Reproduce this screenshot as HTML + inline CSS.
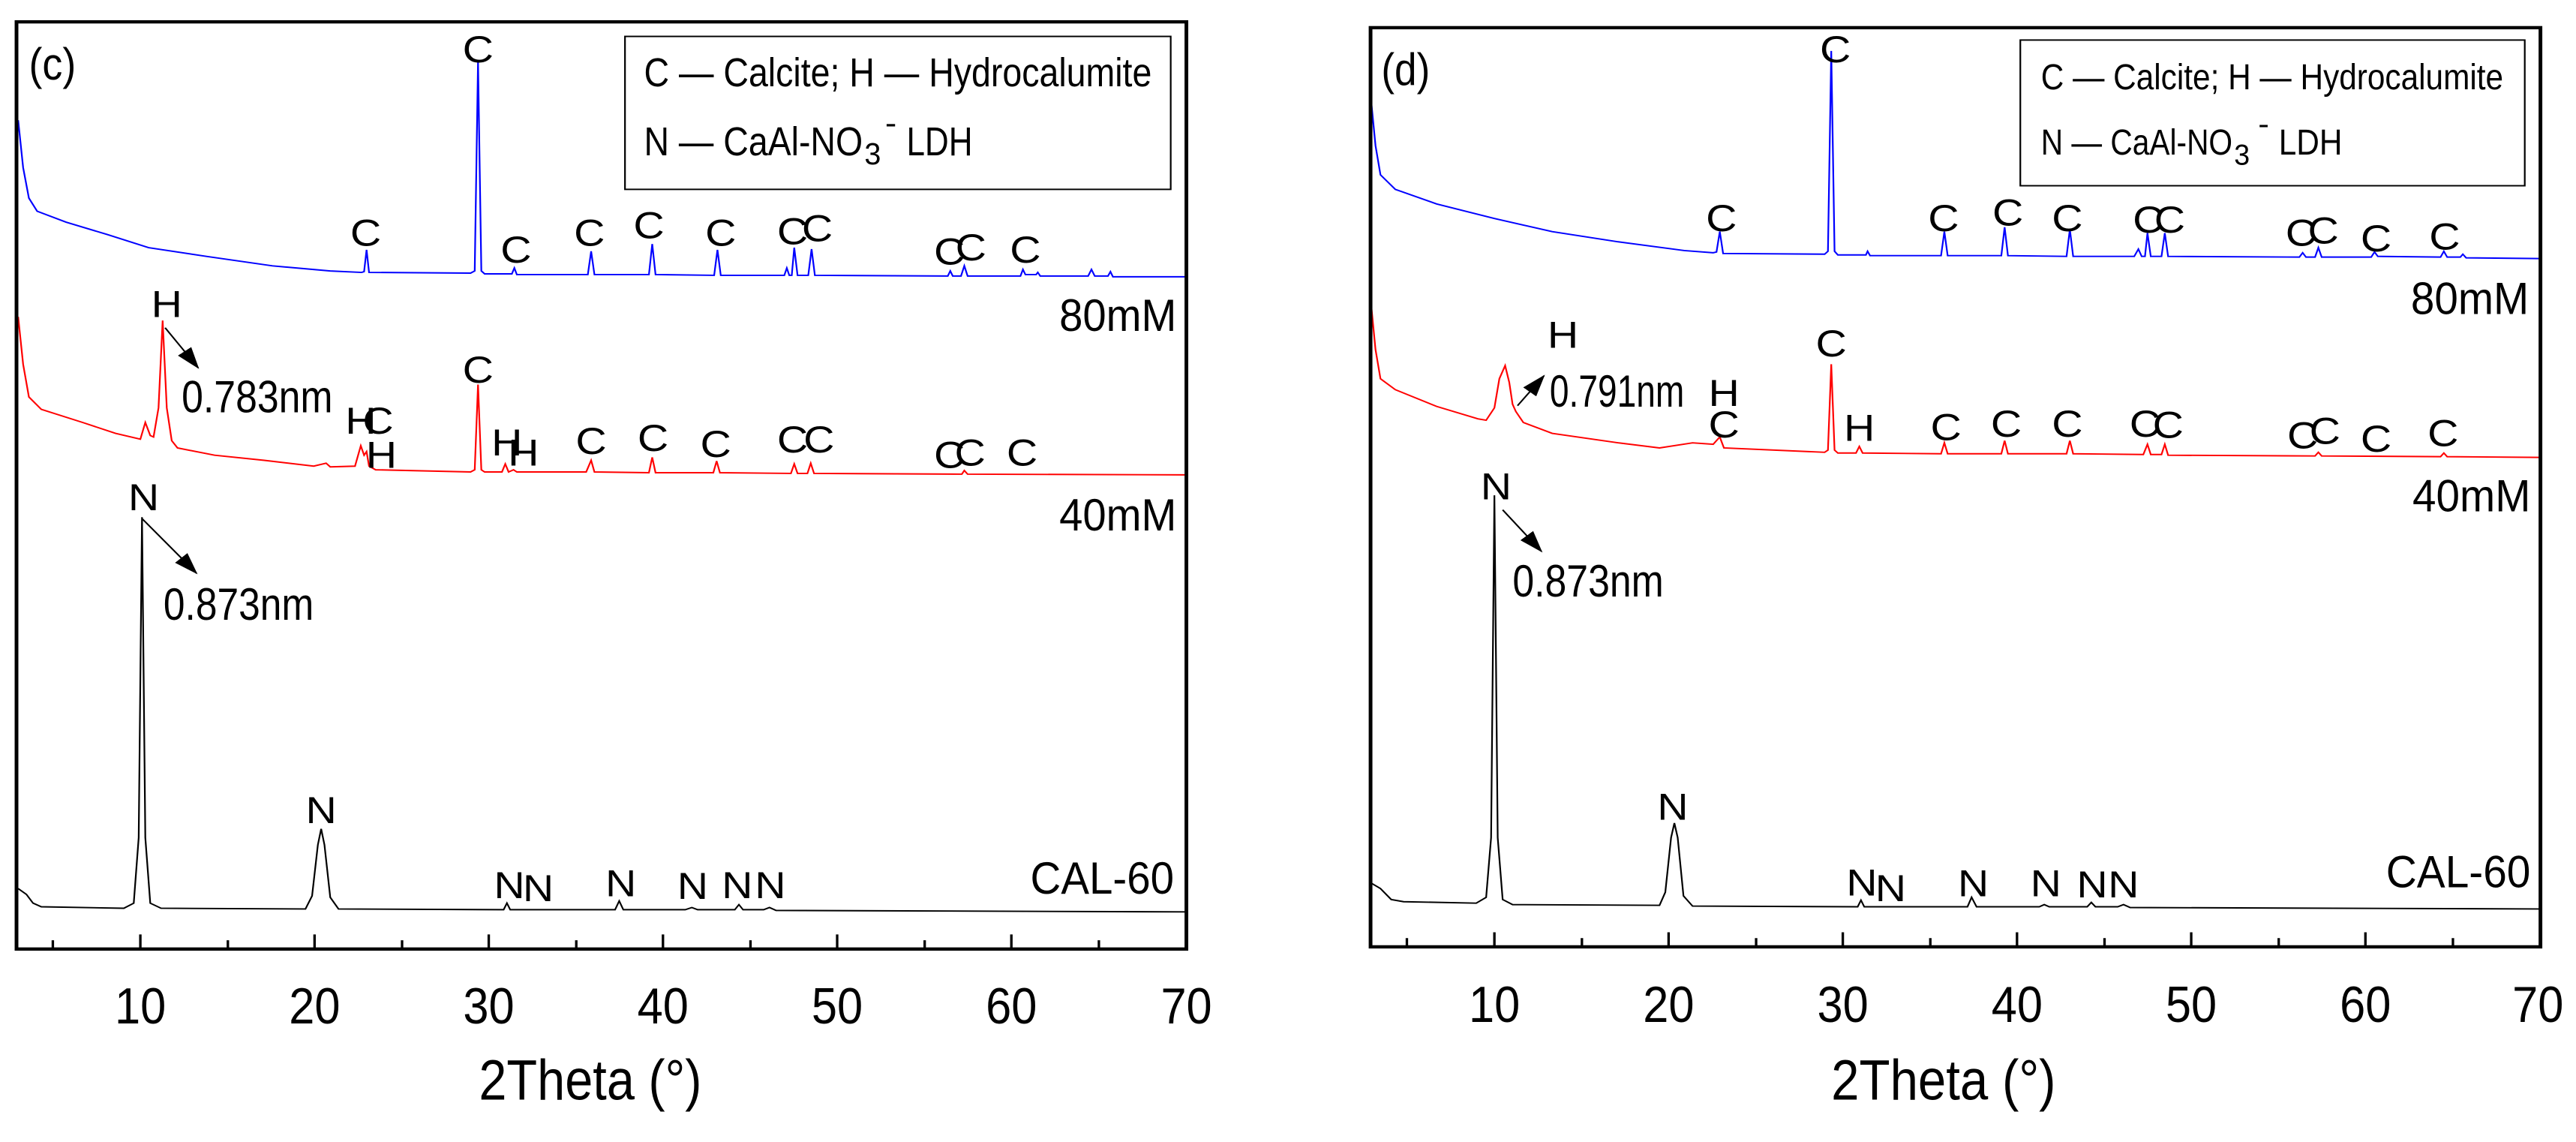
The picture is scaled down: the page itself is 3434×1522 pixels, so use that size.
<!DOCTYPE html>
<html><head><meta charset="utf-8"><style>
html,body{margin:0;padding:0;background:#fff;overflow:hidden}
svg{display:block}
text{font-family:"Liberation Sans",Arial,sans-serif;fill:#000}
.l{font-size:52px;text-anchor:middle;dominant-baseline:central}
.s{font-size:62px;dominant-baseline:central}
.t{font-size:70px;text-anchor:middle}
.g{font-size:55px;dominant-baseline:central}
.d{font-size:62px;dominant-baseline:central}
</style></head><body>
<svg width="3434" height="1522" viewBox="0 0 3434 1522" xmlns="http://www.w3.org/2000/svg">
<defs>
<marker id="ah2" markerWidth="30" markerHeight="24" refX="28" refY="12" orient="auto" markerUnits="userSpaceOnUse"><path d="M0,2 L30,12 L0,22 z" fill="#000"/></marker></defs>

<!-- LEFT PANEL -->
<g transform="scale(1.1006,0.9707)">
<path fill="none" stroke="#00f" stroke-width="2" d="M22,165 L28,230 L35,272 L45,290 L80,305 L130,322 L180,340 L250,352 L330,365 L400,372 L438,374 L441,373 L444,343 L447,374 L570,375 L575,372 L579,85 L583,372 L587,376 L620,376 L623,368 L626,377 L712,377 L716,345 L720,377 L786,377 L790,335 L794,377 L865,378 L869,343 L873,378 L950,378 L953,368 L956,378 L959,378 L962,340 L966,378 L979,378 L983,342 L987,378 L1148,379 L1151,372 L1154,379 L1164,379 L1168,365 L1172,379 L1236,379 L1239,370 L1242,377 L1255,377 L1257,374 L1260,379 L1318,379 L1322,370 L1326,379 L1342,379 L1345,373 L1348,380 L1437,380"/>
<path fill="none" stroke="#f00" stroke-width="2" d="M22,435 L28,500 L35,545 L50,562 L100,580 L140,595 L170,603 L176,580 L182,598 L186,600 L192,560 L197,440 L202,560 L208,605 L215,615 L260,625 L320,632 L380,640 L395,636 L400,641 L430,640 L437,612 L441,625 L444,620 L447,640 L455,645 L570,648 L575,645 L579,528 L583,645 L587,648 L608,648 L612,637 L616,648 L622,645 L626,648 L710,648 L716,632 L720,648 L786,649 L790,628 L794,649 L864,649 L868,633 L872,649 L958,650 L962,637 L966,650 L978,650 L982,636 L986,650 L1165,651 L1168,646 L1172,651 L1437,652"/>
<path fill="none" stroke="#000" stroke-width="2" d="M22,1220 L32,1228 L40,1240 L50,1245 L150,1247 L162,1240 L168,1150 L172,710 L176,1150 L182,1240 L195,1247 L370,1248 L378,1230 L385,1160 L389,1138 L393,1160 L400,1232 L410,1248 L610,1249 L614,1240 L618,1249 L745,1249 L750,1237 L755,1249 L830,1249 L838,1246 L845,1249 L890,1249 L895,1242 L900,1249 L925,1249 L932,1246 L940,1250 L1437,1252"/>
<rect x="20" y="30" width="1417" height="1273" fill="none" stroke="#000" stroke-width="4.5"/>
<path stroke="#000" stroke-width="3" d="M64,1303v-12 M170,1303v-20 M276,1303v-12 M381,1303v-20 M487,1303v-12 M592,1303v-20 M698,1303v-12 M803,1303v-20 M909,1303v-12 M1014,1303v-20 M1120,1303v-12 M1225,1303v-20 M1331,1303v-12"/>
<g class="t"><text x="170" y="1405" textLength="62" lengthAdjust="spacingAndGlyphs">10</text><text x="381" y="1405" textLength="62" lengthAdjust="spacingAndGlyphs">20</text><text x="592" y="1405" textLength="62" lengthAdjust="spacingAndGlyphs">30</text><text x="803" y="1405" textLength="62" lengthAdjust="spacingAndGlyphs">40</text><text x="1014" y="1405" textLength="62" lengthAdjust="spacingAndGlyphs">50</text><text x="1225" y="1405" textLength="62" lengthAdjust="spacingAndGlyphs">60</text><text x="1437" y="1405" textLength="62" lengthAdjust="spacingAndGlyphs">70</text></g>
<text x="580" y="1510" style="font-size:78px" textLength="270" lengthAdjust="spacingAndGlyphs">2Theta (°)</text>
<rect x="757" y="50" width="661" height="210" fill="none" stroke="#000" stroke-width="2"/>
<text class="g" x="780" y="100" textLength="615" lengthAdjust="spacingAndGlyphs">C — Calcite; H — Hydrocalumite</text>
<text class="g" x="780" y="195" textLength="265" lengthAdjust="spacingAndGlyphs">N — CaAl-NO</text>
<text class="g" x="1047" y="212" style="font-size:42px" textLength="20" lengthAdjust="spacingAndGlyphs">3</text>
<text class="g" x="1072" y="170" style="font-size:42px">-</text>
<text class="g" x="1098" y="195" textLength="80" lengthAdjust="spacingAndGlyphs">LDH</text>
<text class="d" x="35" y="88" textLength="57" lengthAdjust="spacingAndGlyphs">(c)</text>
<g class="l">
<text x="443" y="320">C</text><text x="579" y="68">C</text><text x="625" y="343">C</text><text x="714" y="320">C</text><text x="786" y="310">C</text><text x="873" y="320">C</text><text x="960" y="318">C</text><text x="990" y="314">C</text><text x="1150" y="346">C</text><text x="1176" y="340">C</text><text x="1242" y="343">C</text>
<text x="202" y="418">H</text><text x="579" y="508">C</text><text x="437" y="578">H</text><text x="458" y="578">C</text><text x="462" y="625">H</text><text x="614" y="608">H</text><text x="634" y="622">H</text><text x="716" y="606">C</text><text x="791" y="602">C</text><text x="867" y="610">C</text><text x="960" y="604">C</text><text x="992" y="604">C</text><text x="1150" y="625">C</text><text x="1175" y="622">C</text><text x="1238" y="622">C</text>
<text x="174" y="683">N</text><text x="389" y="1113">N</text><text x="617" y="1216">N</text><text x="652" y="1220">N</text><text x="752" y="1213">N</text><text x="839" y="1217">N</text><text x="893" y="1216">N</text><text x="933" y="1216">N</text>
</g>
<text class="d" x="220" y="545" textLength="183" lengthAdjust="spacingAndGlyphs">0.783nm</text>
<text class="d" x="198" y="830" textLength="182" lengthAdjust="spacingAndGlyphs">0.873nm</text>
<line x1="200" y1="450" x2="240" y2="505" stroke="#000" stroke-width="2" marker-end="url(#ah2)"/>
<line x1="172" y1="712" x2="238" y2="787" stroke="#000" stroke-width="2" marker-end="url(#ah2)"/>
<text class="s" x="1283" y="433" textLength="142" lengthAdjust="spacingAndGlyphs">80mM</text>
<text class="s" x="1283" y="707" textLength="142" lengthAdjust="spacingAndGlyphs">40mM</text>
<text class="s" x="1248" y="1206" textLength="174" lengthAdjust="spacingAndGlyphs">CAL-60</text>
</g>

<!-- RIGHT PANEL -->
<g transform="translate(1717,0) scale(1.1006,0.9707)">
<path fill="none" stroke="#00f" stroke-width="2" d="M100,130 L106,200 L112,240 L130,260 L180,280 L250,300 L320,318 L400,332 L480,344 L515,347 L519,346 L523,318 L527,348 L650,349 L654,345 L658,70 L662,345 L666,350 L700,350 L702,345 L705,351 L791,351 L795,318 L799,351 L864,351 L868,312 L872,351 L943,352 L947,315 L951,352 L1025,352 L1030,342 L1034,352 L1038,352 L1041,320 L1045,352 L1058,352 L1062,320 L1066,352 L1225,353 L1229,347 L1233,353 L1244,353 L1248,340 L1252,353 L1312,353 L1316,346 L1320,352 L1396,353 L1400,345 L1404,353 L1420,353 L1423,349 L1427,354 L1517,355"/>
<path fill="none" stroke="#f00" stroke-width="2" d="M100,410 L106,480 L112,520 L130,535 L180,558 L230,575 L240,577 L250,560 L256,520 L263,502 L268,525 L272,555 L276,565 L285,580 L320,595 L400,608 L450,615 L490,608 L515,610 L523,600 L528,615 L650,621 L654,618 L658,500 L662,618 L666,622 L688,622 L692,613 L696,622 L791,623 L795,608 L799,623 L864,623 L868,605 L872,623 L943,623 L947,605 L951,623 L1036,624 L1041,610 L1045,624 L1058,624 L1062,610 L1066,625 L1244,626 L1248,621 L1252,626 L1396,627 L1400,622 L1404,627 L1517,628"/>
<path fill="none" stroke="#000" stroke-width="2" d="M100,1212 L112,1220 L125,1235 L140,1238 L228,1240 L240,1232 L246,1150 L250,680 L254,1150 L260,1235 L272,1242 L450,1243 L457,1225 L464,1150 L468,1130 L472,1150 L479,1230 L490,1244 L690,1245 L694,1236 L698,1245 L823,1245 L828,1232 L834,1245 L910,1245 L916,1242 L922,1245 L968,1245 L973,1239 L978,1245 L1005,1245 L1012,1242 L1020,1246 L1517,1248"/>
<rect x="100" y="38" width="1417" height="1262" fill="none" stroke="#000" stroke-width="4.5"/>
<path stroke="#000" stroke-width="3" d="M144,1300v-12 M250,1300v-20 M356,1300v-12 M461,1300v-20 M567,1300v-12 M672,1300v-20 M778,1300v-12 M883,1300v-20 M989,1300v-12 M1094,1300v-20 M1200,1300v-12 M1305,1300v-20 M1411,1300v-12"/>
<g class="t"><text x="250" y="1403" textLength="62" lengthAdjust="spacingAndGlyphs">10</text><text x="461" y="1403" textLength="62" lengthAdjust="spacingAndGlyphs">20</text><text x="672" y="1403" textLength="62" lengthAdjust="spacingAndGlyphs">30</text><text x="883" y="1403" textLength="62" lengthAdjust="spacingAndGlyphs">40</text><text x="1094" y="1403" textLength="62" lengthAdjust="spacingAndGlyphs">50</text><text x="1305" y="1403" textLength="62" lengthAdjust="spacingAndGlyphs">60</text><text x="1514" y="1403" textLength="62" lengthAdjust="spacingAndGlyphs">70</text></g>
<text x="658" y="1510" style="font-size:78px" textLength="272" lengthAdjust="spacingAndGlyphs">2Theta (°)</text>
<rect x="887" y="55" width="611" height="200" fill="none" stroke="#000" stroke-width="2"/>
<text class="g" x="912" y="105" style="font-size:50px" textLength="560" lengthAdjust="spacingAndGlyphs">C — Calcite; H — Hydrocalumite</text>
<text class="g" x="912" y="195" style="font-size:50px" textLength="232" lengthAdjust="spacingAndGlyphs">N — CaAl-NO</text>
<text class="g" x="1146" y="212" style="font-size:40px" textLength="19" lengthAdjust="spacingAndGlyphs">3</text>
<text class="g" x="1175" y="170" style="font-size:40px">-</text>
<text class="g" x="1200" y="195" style="font-size:50px" textLength="77" lengthAdjust="spacingAndGlyphs">LDH</text>
<text class="d" x="113" y="95" textLength="59" lengthAdjust="spacingAndGlyphs">(d)</text>
<g class="l">
<text x="525" y="300">C</text><text x="663" y="68">C</text><text x="794" y="300">C</text><text x="872" y="292">C</text><text x="944" y="300">C</text><text x="1042" y="302">C</text><text x="1068" y="302">C</text><text x="1227" y="320">C</text><text x="1254" y="317">C</text><text x="1318" y="328">C</text><text x="1401" y="325">C</text>
<text x="333" y="460">H</text><text x="528" y="540">H</text><text x="528" y="583">C</text><text x="658" y="472">C</text><text x="692" y="588">H</text><text x="797" y="587">C</text><text x="870" y="582">C</text><text x="944" y="582">C</text><text x="1038" y="582">C</text><text x="1066" y="584">C</text><text x="1229" y="598">C</text><text x="1256" y="592">C</text><text x="1318" y="603">C</text><text x="1399" y="595">C</text>
<text x="252" y="668">N</text><text x="466" y="1108">N</text><text x="695" y="1212">N</text><text x="730" y="1220">N</text><text x="830" y="1213">N</text><text x="918" y="1213">N</text><text x="974" y="1215">N</text><text x="1012" y="1215">N</text>
</g>
<text class="d" x="317" y="537" textLength="163" lengthAdjust="spacingAndGlyphs">0.791nm</text>
<text class="d" x="272" y="798" textLength="183" lengthAdjust="spacingAndGlyphs">0.873nm</text>
<line x1="278" y1="557" x2="310" y2="516" stroke="#000" stroke-width="2" marker-end="url(#ah2)"/>
<line x1="260" y1="700" x2="307" y2="757" stroke="#000" stroke-width="2" marker-end="url(#ah2)"/>
<text class="s" x="1360" y="410" textLength="143" lengthAdjust="spacingAndGlyphs">80mM</text>
<text class="s" x="1362" y="681" textLength="143" lengthAdjust="spacingAndGlyphs">40mM</text>
<text class="s" x="1330" y="1197" textLength="175" lengthAdjust="spacingAndGlyphs">CAL-60</text>
</g>
</svg>
</body></html>
